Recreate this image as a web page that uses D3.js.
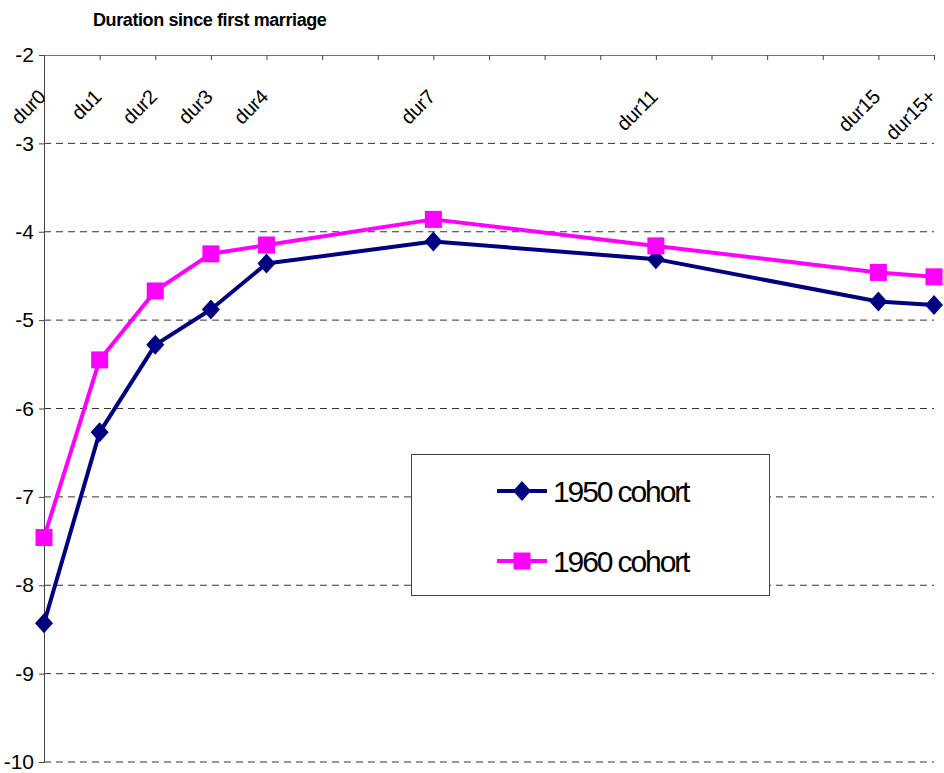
<!DOCTYPE html>
<html>
<head>
<meta charset="utf-8">
<script src="https://cdn.jsdelivr.net/npm/d3@7"></script>
<style>
  html, body { margin: 0; padding: 0; background: #fff; }
  svg { display: block; font-family: Arial, "Liberation Sans", sans-serif; }
</style>
</head>
<body>
<div id="chart"></div>
<script>
// categories on the duration axis and their position in years
const categories = ["dur0", "du1", "dur2", "dur3", "dur4", "dur7", "dur11", "dur15", "dur15+"];
const durations = [0, 1, 2, 3, 4, 7, 11, 15, 16];

// series values
const cohort1950 = [-8.43, -6.27, -5.28, -4.88, -4.36, -4.11, -4.31, -4.79, -4.83];
const cohort1960 = [-7.46, -5.45, -4.67, -4.25, -4.15, -3.86, -4.16, -4.46, -4.51];

const yTicks = [-2, -3, -4, -5, -6, -7, -8, -9, -10];

const W = 944, H = 773;
const svg = d3.select("#chart").append("svg").attr("width", W).attr("height", H);

const x = d3.scaleLinear().domain([0, 16]).range([44, 934]);
const y = d3.scaleLinear().domain([-2, -10]).range([55, 762]);

// title
svg.append("text")
  .attr("x", 93).attr("y", 26)
  .attr("font-size", 18).attr("font-weight", "bold")
  .attr("letter-spacing", -0.4)
  .text("Duration since first marriage");

// dashed gridlines
svg.append("g").selectAll("line")
  .data(yTicks.filter(d => d !== -2))
  .join("line")
  .attr("x1", x(0)).attr("x2", x(16))
  .attr("y1", d => y(d)).attr("y2", d => y(d))
  .attr("stroke", "#333").attr("stroke-width", 1)
  .attr("stroke-dasharray", "7,5");

// y axis
const yAxis = svg.append("g")
  .attr("transform", `translate(${x(0)},0)`)
  .call(d3.axisLeft(y).tickValues(yTicks).tickSize(5).tickFormat(d => String(d)));
yAxis.select(".domain").attr("stroke", "#444");
yAxis.selectAll(".tick line").attr("stroke", "#444");
yAxis.selectAll(".tick text")
  .attr("font-size", 21).attr("fill", "#000")
  .attr("x", -10)
  .attr("font-family", "Arial, 'Liberation Sans', sans-serif");

// x axis at the top (y = -2), ticks pointing down
const xAxis = svg.append("g")
  .attr("transform", `translate(0,${y(-2)})`)
  .call(d3.axisBottom(x).tickValues(d3.range(0, 17)).tickSize(5).tickFormat(""));
xAxis.select(".domain").attr("stroke", "#777");
xAxis.selectAll(".tick line").attr("stroke", "#444");

// rotated category labels
svg.append("g").selectAll("text")
  .data(categories)
  .join("text")
  .attr("transform", (d, i) => `translate(${x(durations[i]) + 3},${98}) rotate(-45)`)
  .attr("text-anchor", "end")
  .attr("font-size", 20)
  .attr("letter-spacing", -0.3)
  .text(d => d);

// series
const series = [
  { name: "1950 cohort", values: cohort1950, color: "#000080", shape: "diamond" },
  { name: "1960 cohort", values: cohort1960, color: "#ff00ff", shape: "square" }
];

const diamond = "M0,-10L9,0L0,10L-9,0Z";
const square = "M-8.5,-8.5H8.5V8.5H-8.5Z";

const line = d3.line().x(d => x(d[0])).y(d => y(d[1]));

series.forEach(s => {
  const pts = durations.map((d, i) => [d, s.values[i]]);
  svg.append("path")
    .datum(pts)
    .attr("d", line)
    .attr("fill", "none")
    .attr("stroke", s.color)
    .attr("stroke-width", 4)
    .attr("stroke-linejoin", "round");
  svg.append("g").selectAll("path")
    .data(pts)
    .join("path")
    .attr("transform", d => `translate(${x(d[0])},${y(d[1])})`)
    .attr("d", s.shape === "diamond" ? diamond : square)
    .attr("fill", s.color);
});

// legend
const legend = svg.append("g");
legend.append("rect")
  .attr("x", 411.5).attr("y", 454.5).attr("width", 358).attr("height", 141)
  .attr("fill", "#fff").attr("stroke", "#444").attr("stroke-width", 1);

series.forEach((s, i) => {
  const ly = 491 + i * 70;
  legend.append("line")
    .attr("x1", 497).attr("x2", 547).attr("y1", ly).attr("y2", ly)
    .attr("stroke", s.color).attr("stroke-width", 4);
  legend.append("path")
    .attr("transform", `translate(522,${ly})`)
    .attr("d", s.shape === "diamond" ? diamond : square)
    .attr("fill", s.color);
  legend.append("text")
    .attr("x", 553).attr("y", ly + 11)
    .attr("font-size", 30).attr("letter-spacing", -2.1)
    .text(s.name);
});
</script>
</body>
</html>
